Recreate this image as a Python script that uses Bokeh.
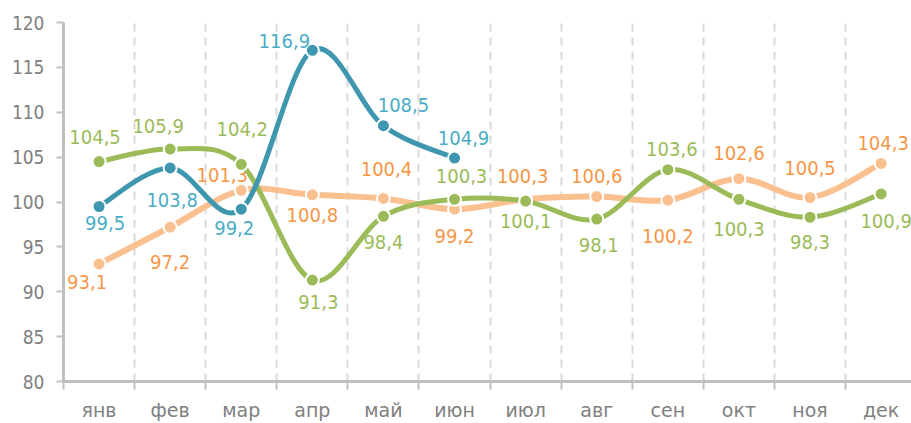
from bokeh.plotting import figure
from bokeh.models import FixedTicker, Range1d, ColumnDataSource
from bokeh.core.properties import value
from bokeh.embed import file_html
from bokeh.resources import INLINE

months = ["янв", "фев", "мар", "апр", "май", "июн", "июл", "авг", "сен", "окт", "ноя", "дек"]
blue_vals = [99.5, 103.8, 99.2, 116.9, 108.5, 104.9]
green_vals = [104.5, 105.9, 104.2, 91.3, 98.4, 100.3, 100.1, 98.1, 103.6, 100.3, 98.3, 100.9]
orange_vals = [93.1, 97.2, 101.3, 100.8, 100.4, 99.2, 100.3, 100.6, 100.2, 102.6, 100.5, 104.3]
y_ticks = [80, 85, 90, 95, 100, 105, 110, 115, 120]

# label offsets in screen pixels (dx, dy; dy positive = down)
blue_off = [(6, 17), (2, 32), (-7, 19), (-28, -9), (20, -21), (9, -20)]
green_off = [(-4, -25), (-12, -23), (1, -35), (6, 22), (0, 26), (7, -23),
             (0, 20), (2, 26), (4, -21), (0, 30), (0, 25), (5, 27)]
orange_off = [(-12, 18), (0, 35), (-19, -15), (0, 20), (3, -29), (0, 27),
              (-3, -23), (0, -21), (0, 36), (0, -26), (0, -30), (2, -20)]

LABEL_FONT = "DejaVu Sans Condensed"

p = figure(width=911, height=423, output_backend="svg", toolbar_location=None,
           x_range=Range1d(-0.5, 11.427), y_range=Range1d(80, 120),
           min_border_left=63, min_border_right=0, min_border_top=22, min_border_bottom=40)
p.outline_line_color = None
p.background_fill_color = "white"
p.border_fill_color = "white"

centers = list(range(len(months)))
bounds = [i - 0.5 for i in range(len(months) + 1)]

# axes
xa = p.xaxis[0]
xa.ticker = FixedTicker(ticks=centers, minor_ticks=bounds)
xa.major_label_overrides = {i: m for i, m in enumerate(months)}
xa.major_tick_line_color = None
xa.major_tick_out = 0
xa.major_tick_in = 0
xa.minor_tick_line_color = "#BFBFBF"
xa.minor_tick_line_width = 2
xa.minor_tick_out = 8
xa.minor_tick_in = 0
xa.axis_line_color = "#BFBFBF"
xa.axis_line_width = 3
xa.major_label_text_font = "DejaVu Sans"
xa.major_label_text_font_size = "19px"
xa.major_label_text_color = "#808080"
xa.major_label_standoff = 9

ya = p.yaxis[0]
ya.ticker = FixedTicker(ticks=y_ticks)
ya.minor_tick_line_color = None
ya.major_tick_line_color = "#BFBFBF"
ya.major_tick_line_width = 2
ya.major_tick_out = 7
ya.major_tick_in = 0
ya.axis_line_color = "#BFBFBF"
ya.axis_line_width = 3
ya.major_label_text_font = LABEL_FONT
ya.major_label_text_font_size = "19px"
ya.major_label_text_color = "#808080"
ya.major_label_standoff = 12

p.ygrid.grid_line_color = None
p.xgrid.ticker = FixedTicker(ticks=bounds[1:])
p.xgrid.grid_line_color = "#D9D9D9"
p.xgrid.grid_line_width = 2
p.xgrid.grid_line_dash = "8 6"


def bezier_segments(vals):
    n = len(vals)
    xs = list(range(n))
    x0, y0, x1, y1, cx0, cy0, cx1, cy1 = [], [], [], [], [], [], [], []
    for i in range(n - 1):
        im1 = max(i - 1, 0)
        ip2 = min(i + 2, n - 1)
        x0.append(xs[i]); y0.append(vals[i])
        x1.append(xs[i + 1]); y1.append(vals[i + 1])
        cx0.append(xs[i] + (xs[i + 1] - xs[im1]) / 6.0)
        cy0.append(vals[i] + (vals[i + 1] - vals[im1]) / 6.0)
        cx1.append(xs[i + 1] - (xs[ip2] - xs[i]) / 6.0)
        cy1.append(vals[i + 1] - (vals[ip2] - vals[i]) / 6.0)
    return dict(x0=x0, y0=y0, x1=x1, y1=y1, cx0=cx0, cy0=cy0, cx1=cx1, cy1=cy1)


def draw_series(vals, line_color, text_color, offsets, lw):
    seg = ColumnDataSource(bezier_segments(vals))
    p.bezier(x0="x0", y0="y0", x1="x1", y1="y1", cx0="cx0", cy0="cy0",
             cx1="cx1", cy1="cy1", source=seg, line_color=line_color,
             line_width=lw, line_cap="round")
    xs = list(range(len(vals)))
    p.scatter(xs, vals, size=13, fill_color=line_color, line_color="white", line_width=2)
    labels = [f"{v:.1f}".replace(".", ",") for v in vals]
    src = ColumnDataSource(dict(x=xs, y=vals, t=labels,
                                dx=[o[0] for o in offsets], dy=[o[1] for o in offsets]))
    p.text(x="x", y="y", text="t", x_offset="dx", y_offset="dy", source=src,
           text_font=value(LABEL_FONT), text_font_size="20px", text_color=text_color,
           text_align="center", text_baseline="middle")


draw_series(orange_vals, "#FAC090", "#F79646", orange_off, 6)
draw_series(green_vals, "#9BBB59", "#9BBB59", green_off, 5)
draw_series(blue_vals, "#3E96AF", "#4BACC6", blue_off, 5)

open("out.html", "w").write(file_html(p, INLINE))
